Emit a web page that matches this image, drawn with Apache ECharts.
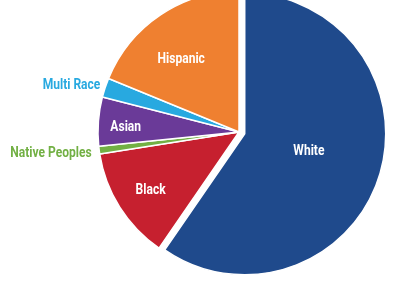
<!DOCTYPE html>
<html><head><meta charset="utf-8">
<script src="https://cdn.jsdelivr.net/npm/echarts@6/dist/echarts.min.js"></script>
<style>html,body{margin:0;padding:0;background:#fff}#c{width:400px;height:284px}</style>
</head><body><div id="c"></div>
<script>
const categories = ['White', 'Black', 'Native Peoples', 'Asian', 'Multi Race', 'Hispanic'];
const values = [59.6, 12.9, 0.9, 5.6, 2.2, 18.8];
const colors = ['#1F4A8C', '#C6202F', '#72B044', '#6A3A98', '#28A9E0', '#EF8030'];

const FONT = 'Roboto, "Liberation Sans", sans-serif';
const FS = 14;
const center = [239, 132];
const R = 141;

// small label nudges (pixels)
const nudge = {'White': [-7, -4], 'Hispanic': [-6, 6], 'Asian': [1, 4], 'Black': [2, 2], 'Native Peoples': [-3, 3], 'Multi Race': [0, -1]};
const layoutFn = p => { const n = nudge[categories[p.dataIndex]] || [0, 0]; return {dx: n[0], dy: n[1]}; };

const insideMain = ['White'];
const outside = ['Multi Race', 'Native Peoples'];

const series = [{
  type: 'pie', center, radius: [0, R], startAngle: 90, clockwise: true,
  avoidLabelOverlap: false, selectedMode: 'multiple', selectedOffset: 6,
  animation: false, silent: true,
  itemStyle: {borderColor: '#fff', borderWidth: 1.5},
  labelLine: {show: false, length: 3, length2: 0},
  labelLayout: layoutFn,
  data: categories.map((name, i) => ({
    name, value: values[i],
    itemStyle: {color: colors[i]},
    selected: name === 'White',
    label: insideMain.includes(name)
      ? {show: true, position: 'inside', color: '#fff', fontFamily: FONT, fontWeight: 'bold', fontSize: FS}
      : outside.includes(name)
        ? {show: true, position: 'outside', color: colors[i], fontFamily: FONT, fontWeight: 'bold', fontSize: FS, distanceToLabelLine: 2}
        : {show: false}
  }))
}];

// transparent overlay rings used only to place inside labels at different depths
const overlays = [['Hispanic', 42], ['Black', 66], ['Asian', 82]];
overlays.forEach(([lab, r0]) => {
  series.push({
    type: 'pie', center, radius: [r0, R], startAngle: 90, clockwise: true,
    animation: false, silent: true, avoidLabelOverlap: false,
    labelLine: {show: false},
    labelLayout: layoutFn,
    data: categories.map((name, i) => ({
      name, value: values[i],
      itemStyle: {color: 'rgba(0,0,0,0)'},
      label: name === lab ? {show: true, position: 'inside', color: '#fff', fontFamily: FONT, fontWeight: 'bold', fontSize: FS} : {show: false}
    }))
  });
});

const chart = echarts.init(document.getElementById('c'), null, {renderer: 'canvas'});
chart.setOption({backgroundColor: '#fff', series});

// condense label glyphs horizontally to mimic the condensed bold typeface
function condense() {
  chart.getModel().eachSeries(s => {
    const d = s.getData();
    d.each(idx => {
      const el = d.getItemGraphicEl(idx);
      const t = el && el.getTextContent && el.getTextContent();
      if (t && !t.ignore) { t.scaleX = 0.86; t.markRedraw(); }
    });
  });
  chart.getZr().refreshImmediately();
}
condense();
</script></body></html>
